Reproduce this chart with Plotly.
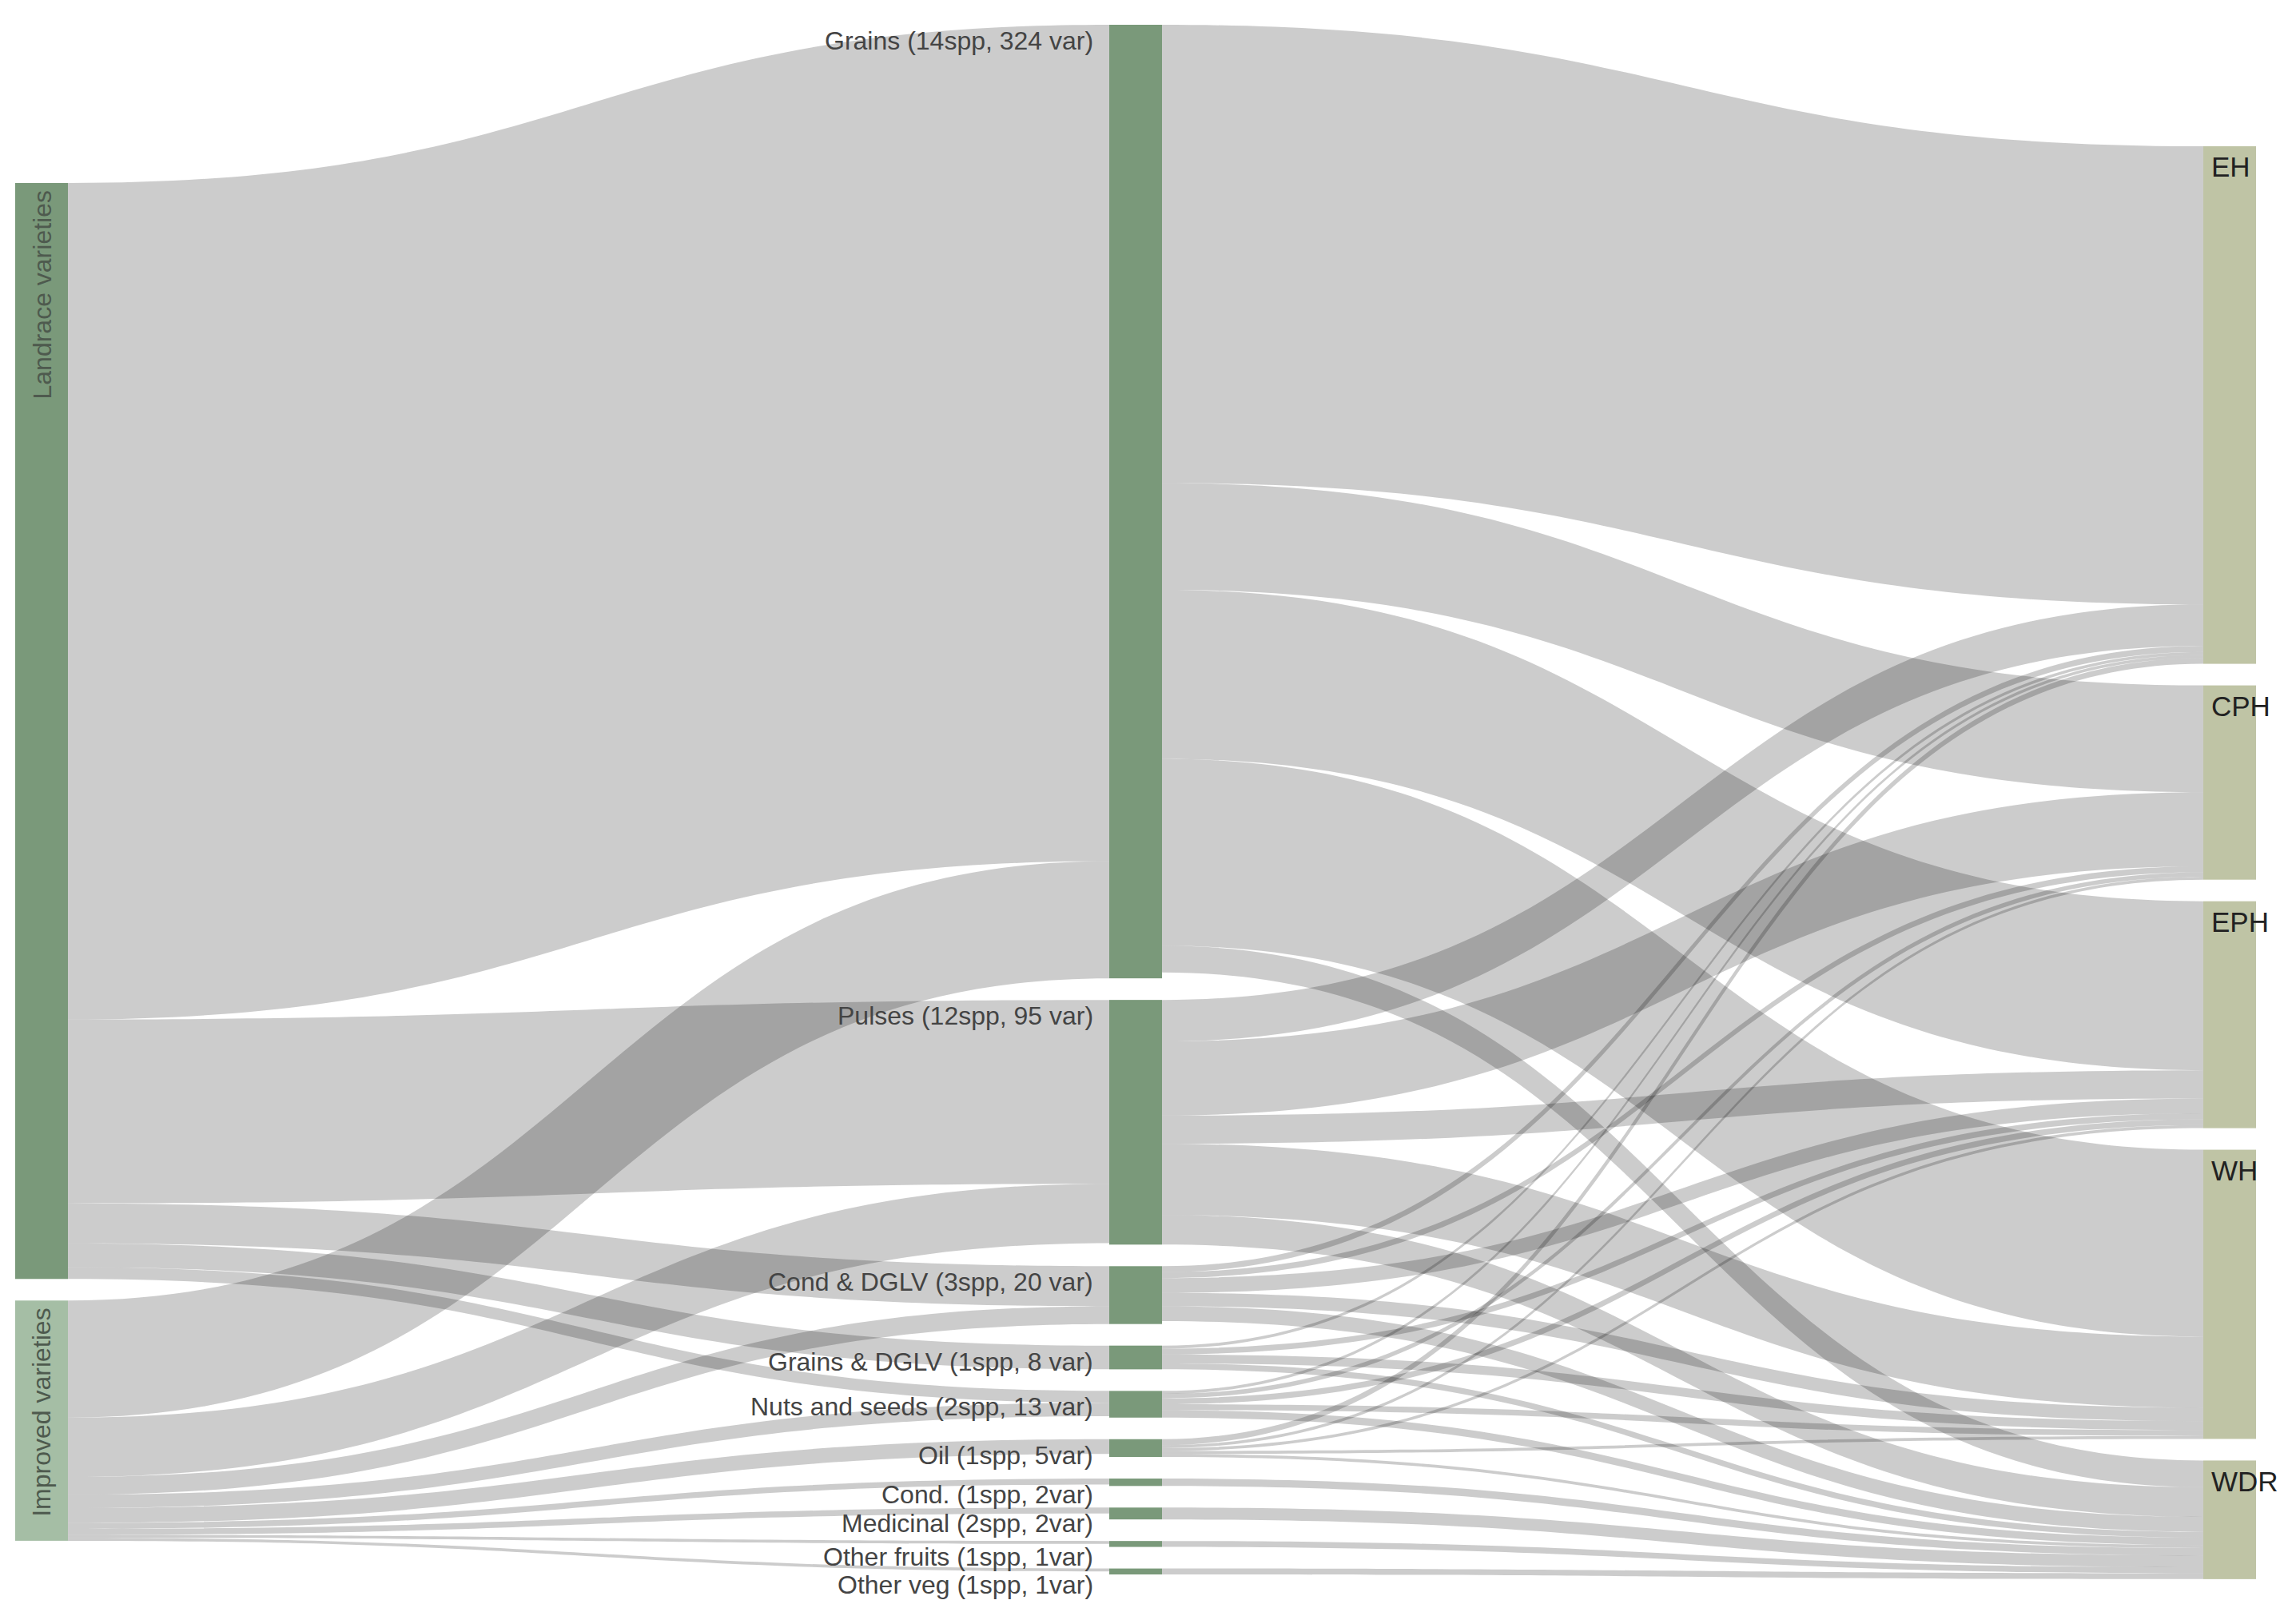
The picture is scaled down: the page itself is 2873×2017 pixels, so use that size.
import plotly.graph_objects as go

# ---------------- data ----------------
SOURCES = ["Landrace varieties", "Improved varieties"]
GROUPS = [
    "Grains (14spp, 324 var)",
    "Pulses (12spp, 95 var)",
    "Cond & DGLV (3spp, 20 var)",
    "Grains & DGLV (1spp, 8 var)",
    "Nuts and seeds (2spp, 13 var)",
    "Oil (1spp, 5var)",
    "Cond. (1spp, 2var)",
    "Medicinal (2spp, 2var)",
    "Other fruits (1spp, 1var)",
    "Other veg (1spp, 1var)",
]
REGIONS = ["EH", "CPH", "EPH", "WH", "WDR"]

# source -> crop group (in GROUPS order)
LANDRACE_TO_GROUP = [282, 62, 13.5, 8, 4, 0, 0, 0, 0, 0]
IMPROVED_TO_GROUP = [39.5, 20, 6, 0, 4.5, 5, 2, 2, 1, 1]

# crop group -> region (EH, CPH, EPH, WH, WDR)
GRAINS_TO_REGION = [154.5, 36, 57, 63, 9]
PULSES_TO_REGION = [14, 25, 9.5, 24, 10]
COND_DGLV_TO_REGION = [2, 2, 5, 4.5, 5]
GRAINS_DGLV_TO_REGION = [1, 0, 2, 3, 2]
NUTS_TO_REGION = [1, 1.5, 2, 2, 2.5]
OIL_TO_REGION = [2, 1, 1, 1, 1]
COND_TO_REGION = [0, 0, 0, 0, 2.5]
MEDICINAL_TO_REGION = [0, 0, 0, 0, 4]
FRUITS_TO_REGION = [0, 0, 0, 0, 2]
VEG_TO_REGION = [0, 0, 0, 0, 2]

# ---------------- style / layout constants ----------------
FIG_W, FIG_H = 2873, 2017
M_L, M_R, M_T, M_B = 18, 34, 31, 47
PW, PH = FIG_W - M_L - M_R, FIG_H - M_T - M_B
TH = 66          # node thickness (px)
PAD = 27         # node padding (px)
COL_XC = [TH / 2 + 1, 1403, 2772]     # column centres (px, inside plot area)
COL_TOP = [198, 0, 152]               # column top offsets (px)

GREEN = "#7a997a"
GREEN_LIGHT = "#a5bea5"
OLIVE = "#bfc4a5"
LINK_COLOR = "rgba(0,0,0,0.2)"
LABEL_FONT = "Liberation Sans, Arial, sans-serif"

# ---------------- build links ----------------
labels = SOURCES + GROUPS + REGIONS
n_src, n_grp = len(SOURCES), len(GROUPS)
src, tgt, val = [], [], []
for i, row in enumerate([LANDRACE_TO_GROUP, IMPROVED_TO_GROUP]):
    for j, v in enumerate(row):
        if v > 0:
            src.append(i); tgt.append(n_src + j); val.append(v)
group_rows = [GRAINS_TO_REGION, PULSES_TO_REGION, COND_DGLV_TO_REGION,
              GRAINS_DGLV_TO_REGION, NUTS_TO_REGION, OIL_TO_REGION,
              COND_TO_REGION, MEDICINAL_TO_REGION, FRUITS_TO_REGION, VEG_TO_REGION]
for j, row in enumerate(group_rows):
    for k, v in enumerate(row):
        if v > 0:
            src.append(n_src + j); tgt.append(n_src + n_grp + k); val.append(v)

n_nodes = len(labels)
inflow = [0.0] * n_nodes
outflow = [0.0] * n_nodes
for s, t, v in zip(src, tgt, val):
    outflow[s] += v
    inflow[t] += v
node_val = [max(a, b) for a, b in zip(inflow, outflow)]

columns = [list(range(n_src)),
           list(range(n_src, n_src + n_grp)),
           list(range(n_src + n_grp, n_nodes))]
ky = min((PH - (len(c) - 1) * PAD) / sum(node_val[i] for i in c) for c in columns)

node_x = [0.0] * n_nodes
node_y = [0.0] * n_nodes
node_top = [0.0] * n_nodes
node_col = [0] * n_nodes
for ci, col in enumerate(columns):
    y = COL_TOP[ci]
    for i in col:
        h = node_val[i] * ky
        node_top[i] = y
        node_col[i] = ci
        node_x[i] = COL_XC[ci] / PW
        node_y[i] = (y + h / 2) / PH
        y += h + PAD

node_colors = [GREEN, GREEN_LIGHT] + [GREEN] * n_grp + [OLIVE] * len(REGIONS)

fig = go.Figure(go.Sankey(
    arrangement="fixed",
    node=dict(
        label=[""] * n_nodes,
        customdata=labels,
        hovertemplate="%{customdata}<extra></extra>",
        x=node_x, y=node_y,
        pad=PAD, thickness=TH,
        color=node_colors,
        line=dict(width=0),
    ),
    link=dict(source=src, target=tgt, value=val, color=LINK_COLOR,
              line=dict(width=0)),
))

annotations = []
for i in range(n_nodes):
    ci = node_col[i]
    xc = COL_XC[ci]
    if ci == 0:
        annotations.append(dict(
            text=labels[i], x=xc / PW, y=1 - (node_top[i] + 8) / PH,
            xref="paper", yref="paper", xanchor="center", yanchor="top",
            textangle=-90, showarrow=False,
            font=dict(family=LABEL_FONT, size=32, color="#4e5a4e")))
    elif ci == 1:
        annotations.append(dict(
            text=labels[i], x=(xc - TH / 2 - 18) / PW, y=1 - (node_top[i] + 20) / PH,
            xref="paper", yref="paper", xanchor="right", yanchor="middle",
            showarrow=False,
            font=dict(family=LABEL_FONT, size=32, color="#444444")))
    else:
        annotations.append(dict(
            text=labels[i], x=(xc - TH / 2 + 8) / PW, y=1 - (node_top[i] + 26) / PH,
            xref="paper", yref="paper", xanchor="left", yanchor="middle",
            showarrow=False,
            font=dict(family=LABEL_FONT, size=35, color="#222222")))

fig.update_layout(
    width=FIG_W, height=FIG_H,
    margin=dict(l=M_L, r=M_R, t=M_T, b=M_B, pad=0),
    paper_bgcolor="white", plot_bgcolor="white",
    annotations=annotations,
    showlegend=False,
)

fig.write_html("out.html", config={"displayModeBar": False},
               post_script="document.body.style.margin='0';")
